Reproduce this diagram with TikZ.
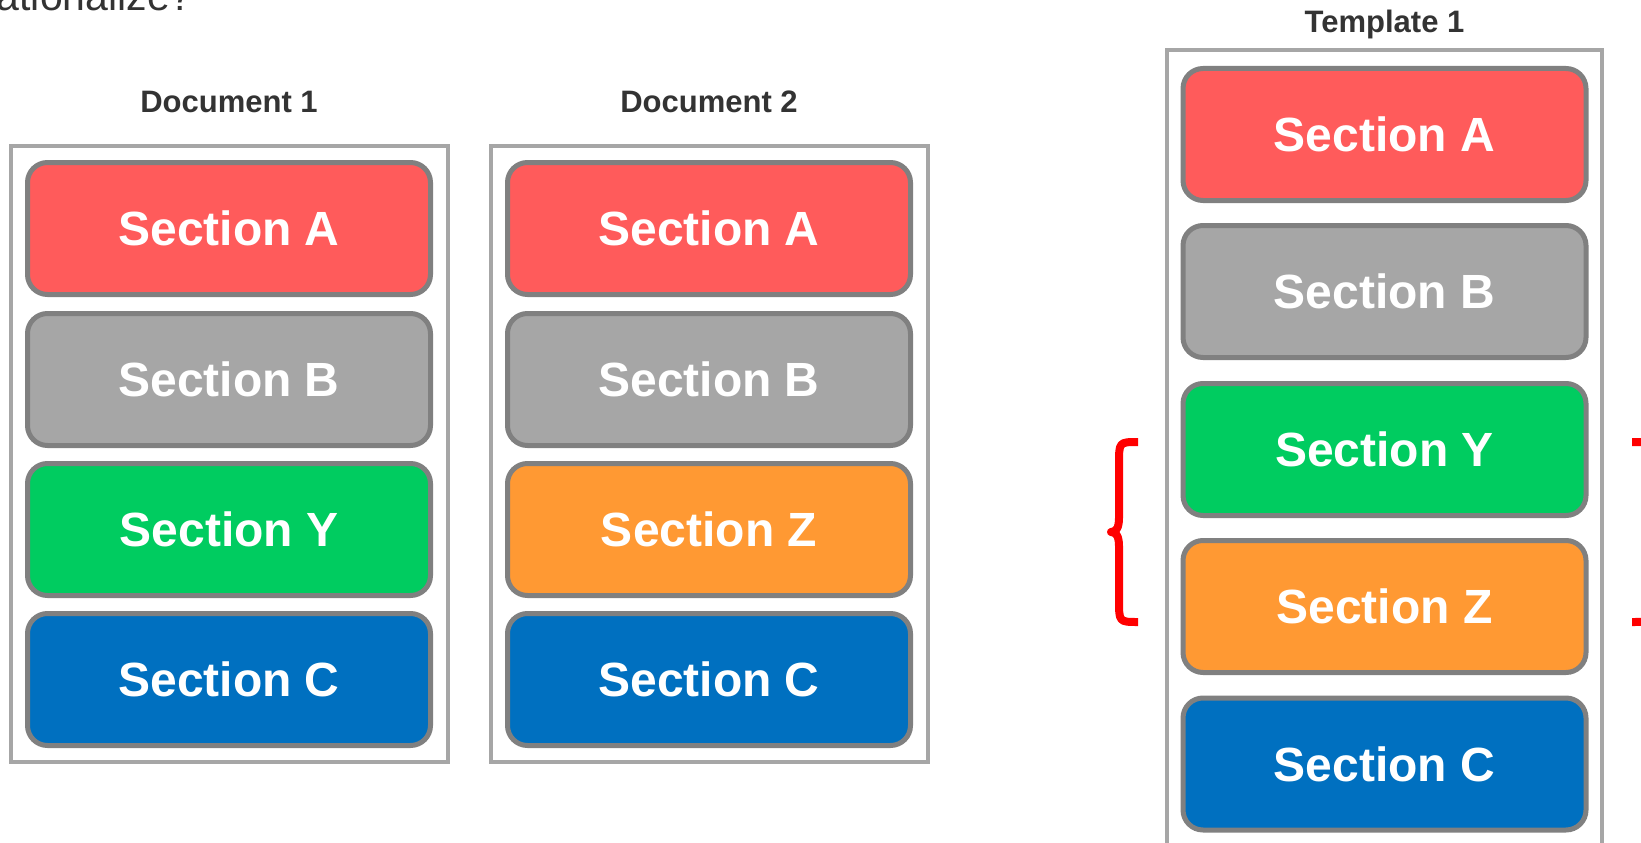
\documentclass[tikz,border=0pt]{standalone}
\usepackage{fontspec}
\setmainfont{Liberation Sans}
\definecolor{secA}{HTML}{FF5B5B}
\definecolor{secB}{HTML}{A6A6A6}
\definecolor{secY}{HTML}{00CC60}
\definecolor{secZ}{HTML}{FF9933}
\definecolor{secC}{HTML}{0070C0}
\definecolor{secline}{HTML}{808080}
\definecolor{boxline}{HTML}{A6A6A6}
\definecolor{titletext}{HTML}{333333}
\tikzset{
  secbox/.style={draw=secline, line width=5pt, rounded corners=20pt,
    minimum width=403pt, minimum height=132pt, inner sep=0pt,
    text=white, font=\fontsize{48}{48}\selectfont\bfseries},
  outerbox/.style={draw=boxline, line width=4pt},
  doctitle/.style={text=titletext, font=\fontsize{31}{31}\selectfont\bfseries},
  bracepath/.style={draw=red, line width=8pt, line join=round}
}
\begin{document}
\begin{tikzpicture}[x=1pt,y=-1pt]
\useasboundingbox (0,0) rectangle (1641,843);
\node[anchor=base east, inner sep=0pt, text=titletext,
  font=\fontsize{41}{41}\selectfont] (quest) at (193,11) {ationalize?};
% Document 1
\draw[outerbox] (10.5,145.5) rectangle (448,762);
\node[doctitle] (doc1) at (229,102) {Document 1};
\foreach \n/\y/\c in {A/228.5/secA,B/379.5/secB,Y/529.5/secY,C/679.5/secC}
  \node[secbox, fill=\c] (d1\n) at (229,\y) {Section \n};
% Document 2
\draw[outerbox] (491,145.5) rectangle (928,762);
\node[doctitle] (doc2) at (709,102) {Document 2};
\foreach \n/\y/\c in {A/228.5/secA,B/379.5/secB,Z/529.5/secZ,C/679.5/secC}
  \node[secbox, fill=\c] (d2\n) at (709,\y) {Section \n};
% Template 1
\draw[outerbox] (1167,50) rectangle (1602,870);
\node[doctitle] (tpl) at (1384.5,24) {Template 1};
\foreach \n/\y/\c in {A/134.5/secA,B/291.5/secB,Y/449.5/secY,Z/606.5/secZ,C/764/secC}
  \node[secbox, fill=\c] (t\n) at (1384.5,\y) {Section \n};
% braces
\draw[bracepath] (1138,442) .. controls (1119,442) .. (1119,464) -- (1119,518)
  .. controls (1119,528) and (1116,532) .. (1111,532)
  .. controls (1116,532) and (1119,536) .. (1119,546) -- (1119,600)
  .. controls (1119,622) .. (1138,622);
\draw[bracepath] (1632,442) .. controls (1651,442) .. (1651,464) -- (1651,518)
  .. controls (1651,528) and (1654,532) .. (1659,532)
  .. controls (1654,532) and (1651,536) .. (1651,546) -- (1651,600)
  .. controls (1651,622) .. (1632,622);
\end{tikzpicture}
\end{document}
